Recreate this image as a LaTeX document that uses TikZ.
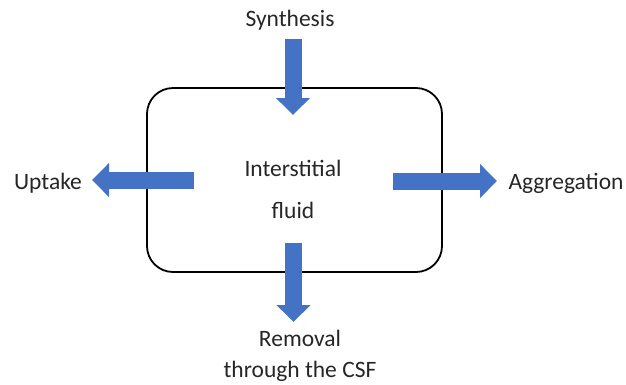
\documentclass[tikz,border=0pt]{standalone}
\usepackage{fontspec}
\setmainfont{Carlito}
\usepackage{xcolor}
\usepackage{tikz}
\usetikzlibrary{arrows.meta, positioning, calc}
\definecolor{flowblue}{HTML}{4472C4}
\tikzset{
  flowarrow/.style={draw=flowblue, line width=17pt, -{Triangle[width=33pt,length=17pt]}},
  lbl/.style={font=\fontsize{23.5}{27}\selectfont, text=black!85, inner sep=0pt}
}

\begin{document}
\begin{tikzpicture}[x=1pt,y=-1pt]
\useasboundingbox (0,0) rectangle (626,384);
% compartment
\node[draw, line width=1.8pt, rounded corners=26pt, minimum width=295pt, minimum height=184pt] (box) at (294.5,180) {};
\node[lbl, align=center] (fluid) at (293,189) {Interstitial\\[15pt]fluid};
% labels
\node[lbl] (syn) at (290,20) {Synthesis};
\node[lbl] (upt) at (48,183) {Uptake};
\node[lbl] (agg) at (566,183) {Aggregation};
\node[lbl, align=center] (rem) at (300,356) {Removal\\[4pt]through the CSF};
% arrow ends
\coordinate (synS) at (293,39);
\coordinate (synE) at (293,115);
\coordinate (uptS) at (194,180);
\coordinate (uptE) at (92,180);
\coordinate (aggS) at (393,181);
\coordinate (aggE) at (497,181);
\coordinate (remS) at (293.5,243);
\coordinate (remE) at (293.5,322);
\draw[flowarrow] (synS) -- (synE);
\draw[flowarrow] (uptS) -- (uptE);
\draw[flowarrow] (aggS) -- (aggE);
\draw[flowarrow] (remS) -- (remE);
\end{tikzpicture}
\end{document}
